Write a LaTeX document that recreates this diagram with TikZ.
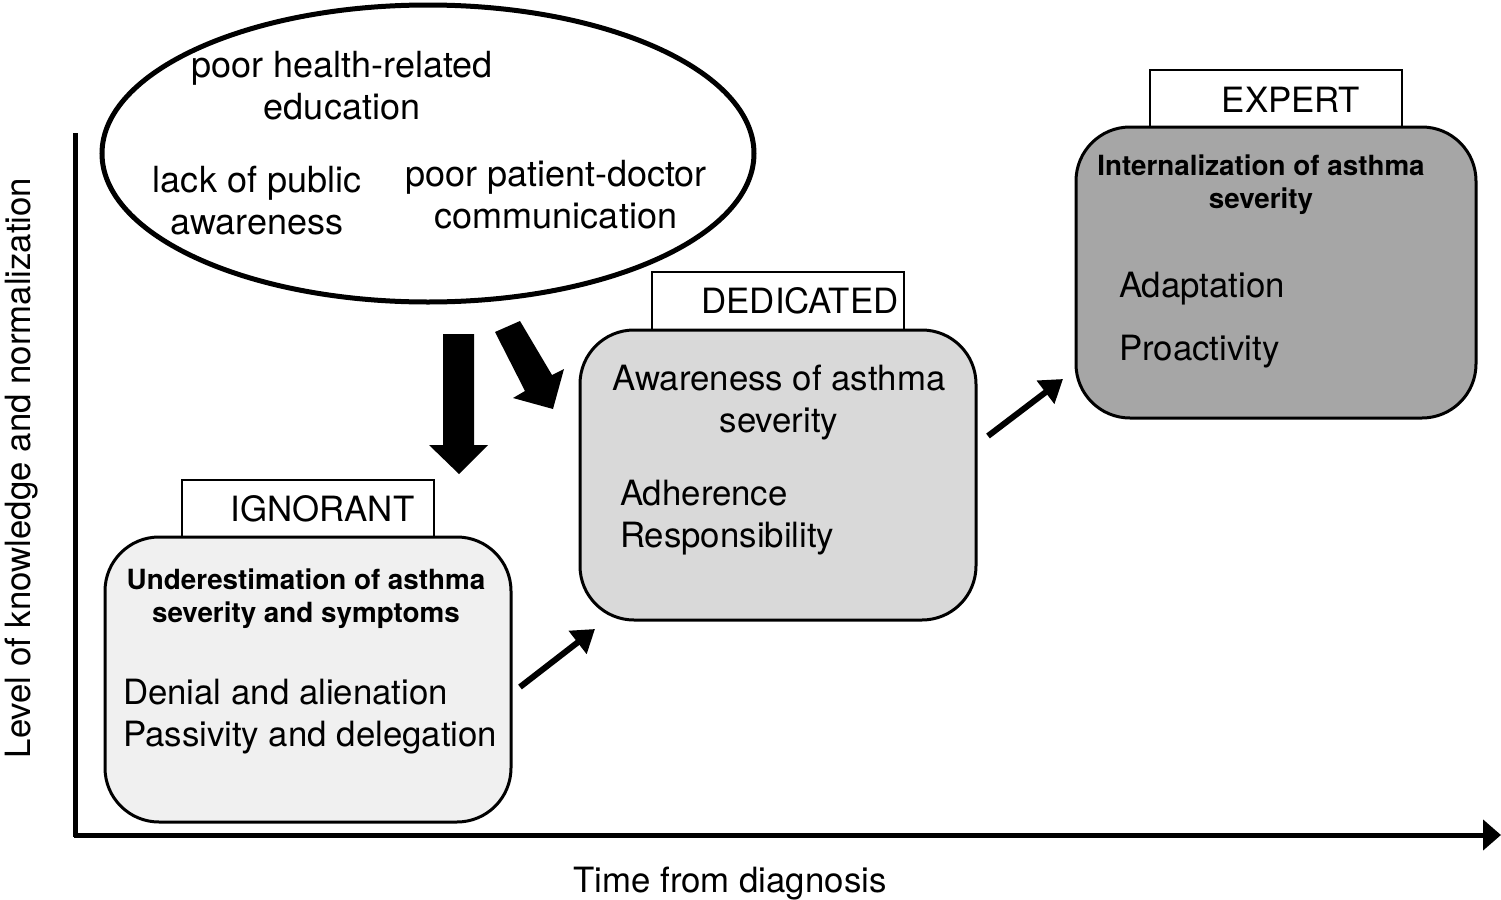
\documentclass[tikz,border=0pt]{standalone}
\usepackage{fontspec}
\setmainfont{TeX Gyre Heros}
\usetikzlibrary{arrows.meta,shapes.geometric}
\definecolor{cIgn}{HTML}{F0F0F0}
\definecolor{cDed}{HTML}{D9D9D9}
\definecolor{cExp}{HTML}{A6A6A6}
\tikzset{
  big/.style={font=\fontsize{17.4}{21}\selectfont},
  cloudtxt/.style={font=\fontsize{18}{21}\selectfont},
  boldtxt/.style={font=\fontsize{13.9}{16.5}\selectfont\bfseries},
  stagebox/.style={draw, line width=1.5pt, rounded corners=27pt, inner sep=0pt},
  tabbox/.style={draw, fill=white, line width=1.2pt, inner sep=0pt, minimum width=126pt, minimum height=28.5pt},
  smallarrow/.style={line width=3pt, -{Triangle[length=11pt,width=14pt]}},
  blockarrow/.style={fill=black, draw=none},
}
\begin{document}
\begin{tikzpicture}[x=0.5pt,y=-0.5pt]
\useasboundingbox (0,0) rectangle (1501,900);
% axes
\coordinate (origin) at (75,835);
\coordinate (ytop) at (75,133);
\coordinate (xend) at (1501,835);
\draw[line width=2.5pt] (ytop) -- (75,837);
\draw[line width=2.5pt, -{Triangle[length=9pt,width=15pt]}] (73.5,835) -- (xend);
\node[big] (xlabel) at (730,884) {Time from diagnosis};
\node[big, rotate=90] (ylabel) at (22,468) {Level of knowledge and normalization};
% ellipse
\node[ellipse, draw, line width=2.5pt, minimum width=326pt, minimum height=148.5pt, inner sep=0pt] (cloud) at (428,153.5) {};
\node[cloudtxt, align=center] (t1) at (342,86) {poor health-related\\education};
\node[cloudtxt, align=center] (t2) at (257,201) {lack of public\\awareness};
\node[cloudtxt, align=center] (t3) at (556,195) {poor patient-doctor\\communication};
% block arrows
\fill[blockarrow] (443,334) -- (474,334) -- (474,445) -- (488,445) -- (459,474) -- (429,445) -- (443,445) -- cycle;
\fill[blockarrow] (495,332) -- (520,321) -- (552,375) -- (564,369) -- (553,409) -- (513,398) -- (525,391) -- cycle;
% ignorant
\node[tabbox] (tabIgn) at (308,508.5) {};
\node[stagebox, fill=cIgn, minimum width=203pt, minimum height=142.5pt] (ign) at (308,679.5) {};
\node[big] (labIgn) at (322.5,509) {IGNORANT};
\node[boldtxt, align=center] (ign1) at (306,599) {Underestimation of asthma\\severity and symptoms};
\node[big, align=left, anchor=west] (ign2) at (116,717) {Denial and alienation\\Passivity and delegation};
% dedicated
\node[tabbox, minimum height=29pt] (tabDed) at (778,301) {};
\node[stagebox, fill=cDed, minimum width=198pt, minimum height=145pt] (ded) at (778,475) {};
\node[big] (labDed) at (800,301) {DEDICATED};
\node[big, align=center] (ded1) at (779,402.5) {Awareness of asthma\\severity};
\node[big, align=left, anchor=west] (ded2) at (613,518) {Adherence\\Responsibility};
% expert
\node[tabbox] (tabExp) at (1276,98.5) {};
\node[stagebox, fill=cExp, minimum width=200pt, minimum height=145.5pt] (exp) at (1276,272.5) {};
\node[big] (labExp) at (1291,100) {EXPERT};
\node[boldtxt, align=center] (exp1) at (1261,184.5) {Internalization of asthma\\severity};
\node[big, anchor=west] (exp2) at (1112,289) {Adaptation};
\node[big, anchor=west] (exp3) at (1112,352) {Proactivity};
% small arrows
\coordinate (a1s) at (520,687);
\coordinate (a1e) at (595,629);
\coordinate (a2s) at (988,436);
\coordinate (a2e) at (1063,379);
\draw[smallarrow] (a1s) -- (a1e);
\draw[smallarrow] (a2s) -- (a2e);
\end{tikzpicture}
\end{document}
